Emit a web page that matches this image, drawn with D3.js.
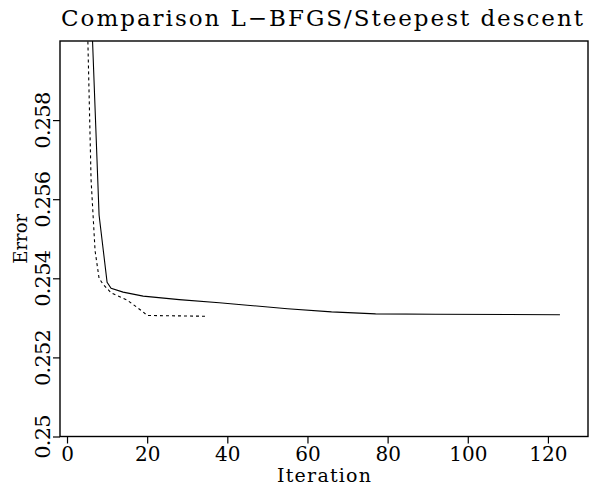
<!DOCTYPE html>
<html>
<head>
<meta charset="utf-8">
<script src="https://cdn.jsdelivr.net/npm/d3@7"></script>
<style>
html,body{margin:0;padding:0;background:#fff;}
svg{display:block;}
text{font-family:"DejaVu Serif","Liberation Serif",serif;fill:#000;}
</style>
</head>
<body>
<svg id="chart" width="592" height="488"></svg>
<script>
// ---- data ----
const title = "Comparison L\u2212BFGS/Steepest descent";
const xLabel = "Iteration";
const yLabel = "Error";
const xTicks = [0, 20, 40, 60, 80, 100, 120];
const xTickLabels = ["0", "20", "40", "60", "80", "100", "120"];
const yTicks = [0.25, 0.252, 0.254, 0.256, 0.258];
const yTickLabels = ["0.25", "0.252", "0.254", "0.256", "0.258"];
// solid curve (iteration, error)
const solidIter  = [6, 8, 10, 11, 14, 19, 28, 38, 45, 55, 66, 77, 92, 123];
const solidError = [0.2610, 0.2556, 0.2539, 0.25375, 0.25365, 0.25355, 0.25346, 0.25338, 0.25332, 0.25323, 0.25315, 0.25310, 0.25309, 0.25308];
// dashed curve (iteration, error)
const dashIter  = [5, 6, 7, 8, 9, 11, 15, 19, 20, 35];
const dashError = [0.2609, 0.2565, 0.2547, 0.2540, 0.25385, 0.25363, 0.25345, 0.25315, 0.25306, 0.25304];

// ---- layout ----
const L = 60, R = 588, T = 41, B = 436.5;
const svg = d3.select("#chart");

const x = d3.scaleLinear().domain([-1.75, 130]).range([L, R]);
const y = d3.scaleLinear().domain([0.25, 0.26]).range([B, T]);

svg.append("defs").append("clipPath").attr("id", "plotclip")
  .append("rect").attr("x", L).attr("y", T).attr("width", R - L).attr("height", B - T);

// frame
svg.append("rect").attr("x", L).attr("y", T).attr("width", R - L).attr("height", B - T)
  .attr("fill", "none").attr("stroke", "#000").attr("stroke-width", 1.4);

// x axis
const xAxis = d3.axisBottom(x).tickValues(xTicks).tickSize(7)
  .tickFormat((d, i) => xTickLabels[i]);
const gx = svg.append("g").attr("transform", `translate(0,${B})`).call(xAxis);
gx.select(".domain").remove();
gx.selectAll(".tick line").attr("stroke", "#000").attr("stroke-width", 1.2);
gx.selectAll(".tick text")
  .attr("font-size", 20).attr("y", 24.5).attr("dy", null)
  .attr("font-family", '"DejaVu Serif", serif');

// y axis
const yAxis = d3.axisLeft(y).tickValues(yTicks).tickSize(7)
  .tickFormat((d, i) => yTickLabels[i]);
const gy = svg.append("g").attr("transform", `translate(${L},0)`).call(yAxis);
gy.select(".domain").remove();
gy.selectAll(".tick line").attr("stroke", "#000").attr("stroke-width", 1.2);
gy.selectAll(".tick text")
  .attr("x", null).attr("dy", null)
  .attr("text-anchor", "middle")
  .attr("font-size", 21)
  .attr("font-family", '"DejaVu Serif", serif')
  .attr("letter-spacing", -0.8)
  .attr("transform", "translate(-10,0) rotate(-90)")
  .attr("y", 0);

// lines
const line = d3.line().x(d => x(d[0])).y(d => y(d[1]));
const solid = solidIter.map((v, i) => [v, solidError[i]]);
const dashed = dashIter.map((v, i) => [v, dashError[i]]);

const gl = svg.append("g").attr("clip-path", "url(#plotclip)");
gl.append("path").datum(solid).attr("d", line)
  .attr("fill", "none").attr("stroke", "#000").attr("stroke-width", 1.1);
gl.append("path").datum(dashed).attr("d", line)
  .attr("fill", "none").attr("stroke", "#000").attr("stroke-width", 1.1)
  .attr("stroke-dasharray", "3,3");

// title
svg.append("text").attr("x", 322).attr("y", 26)
  .attr("text-anchor", "middle").attr("font-size", 23)
  .attr("textLength", 522).attr("lengthAdjust", "spacing")
  .text(title);

// x label
svg.append("text").attr("x", (L + R) / 2).attr("y", 482)
  .attr("text-anchor", "middle").attr("font-size", 19)
  .attr("textLength", 94).attr("lengthAdjust", "spacing")
  .text(xLabel);

// y label
svg.append("text")
  .attr("transform", `translate(27,${(T + B) / 2}) rotate(-90)`)
  .attr("text-anchor", "middle").attr("font-size", 18)
  .text(yLabel);
</script>
</body>
</html>
